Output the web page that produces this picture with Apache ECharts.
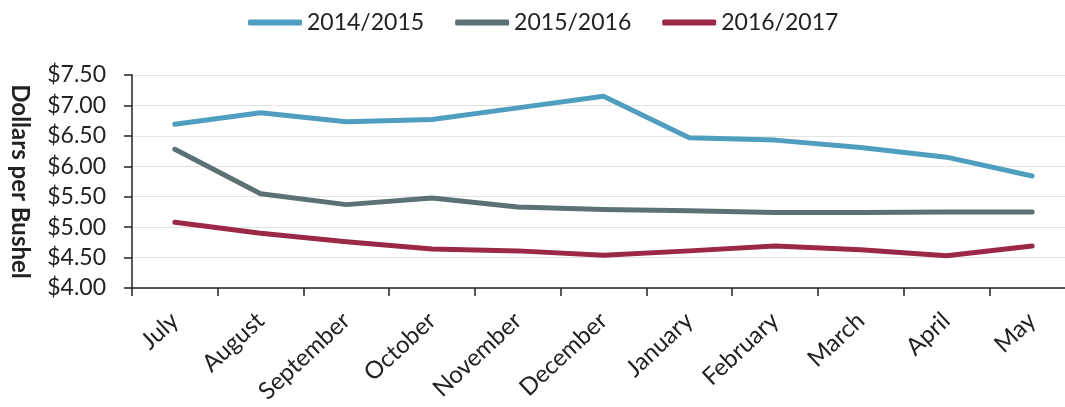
<!DOCTYPE html>
<html>
<head>
<meta charset="utf-8">
<script src="https://cdn.jsdelivr.net/npm/echarts@6/dist/echarts.min.js"></script>
<style>html,body{margin:0;padding:0;background:#fff;}#c{width:1065px;height:407px;}</style>
</head>
<body>
<div id="c"></div>
<script>
const months = ['July','August','September','October','November','December','January','February','March','April','May'];
const seriesNames = ['2014/2015','2015/2016','2016/2017'];
const s2014 = [6.69,6.88,6.73,6.77,6.96,7.15,6.47,6.43,6.31,6.15,5.84];
const s2015 = [6.28,5.55,5.37,5.48,5.33,5.29,5.27,5.24,5.24,5.25,5.25];
const s2016 = [5.08,4.90,4.76,4.64,4.61,4.54,4.61,4.69,4.63,4.53,4.69];
const yMin = 4.0, yMax = 7.5, yStep = 0.5;
const yTitle = 'Dollars per Bushel';
const colors = ['#4f9dbf','#5c7174','#9b2846'];
const font = 'Lato';

const chart = echarts.init(document.getElementById('c'));
const mk = (name, data, i) => ({
  name, type:'line', data, symbol:'none', smooth:false,
  lineStyle:{width:5, color:colors[i], cap:'round', join:'round'},
  itemStyle:{color:colors[i]}
});
chart.setOption({
  animation:false,
  legend:{
    top:6, left:243, itemWidth:54, itemHeight:6, itemGap:31, icon:'roundRect',
    textStyle:{fontFamily:font, fontSize:23, color:'#222'},
    data:seriesNames
  },
  grid:{left:132, right:-10, top:75, bottom:119, containLabel:false, outerBoundsMode:'none'},
  xAxis:{
    type:'category', data:months, boundaryGap:true,
    axisLine:{lineStyle:{color:'#222', width:1.5}},
    axisTick:{show:true, length:8, lineStyle:{color:'#222', width:1.5}},
    axisLabel:{rotate:43, fontFamily:font, fontSize:24, color:'#222', margin:29}
  },
  yAxis:{
    type:'value', min:yMin, max:yMax, interval:yStep,
    name:yTitle, nameLocation:'middle', nameRotate:-90, nameGap:100,
    nameTextStyle:{fontFamily:font, fontSize:24, fontWeight:'bold', color:'#222'},
    axisLine:{show:true, lineStyle:{color:'#222', width:1.5}},
    axisTick:{show:true, length:8, lineStyle:{color:'#222', width:1.5}},
    axisLabel:{fontFamily:font, fontSize:23, color:'#222', margin:26,
      formatter:v => '$' + v.toFixed(2)},
    splitLine:{show:true, lineStyle:{color:'#e3e3e3', width:1}}
  },
  series:[mk(seriesNames[0], s2014, 0), mk(seriesNames[1], s2015, 1), mk(seriesNames[2], s2016, 2)]
});
</script>
</body>
</html>
